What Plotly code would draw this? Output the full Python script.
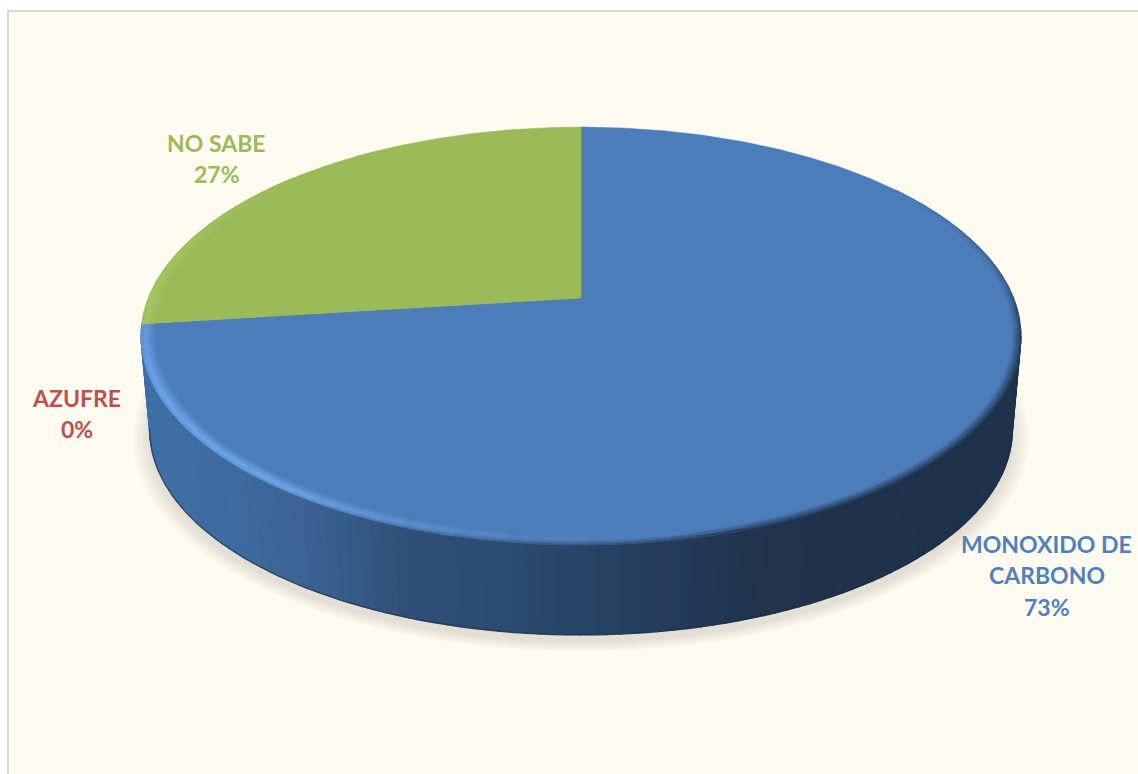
import numpy as np
import plotly.graph_objects as go

# Survey shares
categories = ["MONOXIDO DE CARBONO", "AZUFRE", "NO SABE"]
values = [73, 0, 27]
label_lines = [["MONOXIDO DE", "CARBONO"], ["AZUFRE"], ["NO SABE"]]
label_centers = [(1046.5, 543.5), (76.5, 397.5), (216.5, 142.5)]
slice_colors = ["#4c7dba", "#c0504d", "#9bbb59"]
text_colors = ["#4f81bd", "#c0504d", "#9bbb59"]

W, H = 1138, 774
PANEL = "#fffbf0"
LINE_STEP = 31.7

# Perspective of the disc: p is the foreshortening, A and B the half axes
CX, TOP_Y, BOTTOM_Y = 581.0, 298.0, 393.0
P, A, B = 0.1818, 432.7, 202.0
BOTTOM_SCALE = 0.98


def project(theta_deg, radius=1.0, level="top", grow=0.0, shift=0.0):
    """Map a clockwise angle from twelve o'clock on the disc to the page."""
    t = np.radians(np.asarray(theta_deg, dtype=float))
    u, v = radius * np.sin(t), -radius * np.cos(t)
    w = 1 - P * v
    scale = 1.0 if level == "top" else BOTTOM_SCALE + grow
    yc = TOP_Y if level == "top" else BOTTOM_Y + shift
    return CX + scale * A * u / w, yc + scale * B * v / w


def rgb(hex_color):
    return np.array([int(hex_color[i:i + 2], 16) for i in (1, 3, 5)], dtype=float)


def mix(c1, c2, t):
    c = c1 + (c2 - c1) * float(np.clip(t, 0, 1))
    return "#%02x%02x%02x" % tuple(int(round(x)) for x in c)


fig = go.Figure()


def add_polys(groups):
    for color, (xs, ys) in groups.items():
        fig.add_trace(go.Scatter(
            x=xs, y=ys, mode="lines", fill="toself", fillcolor=color,
            line=dict(color=color, width=0.8), hoverinfo="skip", showlegend=False,
        ))


# Soft ground shadow built from stacked translucent discs
angles = np.linspace(0, 360, 361)
for i in range(14):
    grow = 0.042 - i * 0.003
    sx, sy = project(angles, level="bottom", grow=grow, shift=7)
    fig.add_trace(go.Scatter(
        x=sx, y=sy, mode="lines", fill="toself", fillcolor="rgba(35,35,25,0.0085)",
        line=dict(width=0), hoverinfo="skip", showlegend=False,
    ))

# Cylinder wall, shaded from left to right
wall_x = [141, 250, 320, 400, 500, 580, 660, 740, 820, 1022]
wall_c = ["#3f6fa8", "#3e6a9e", "#3b6090", "#2f5179", "#2b4a70", "#274466", "#243c5b", "#20344f", "#1f324b", "#1f324b"]
wall_rgb = np.array([rgb(c) for c in wall_c])
step = 1.5
groups = {}
for a in np.arange(99.0, 261.0, step):
    seg = np.array([a, a + step + 0.2])
    tx, ty = project(seg)
    bx, by = project(seg, level="bottom")
    mid = (tx.mean() + bx.mean()) / 2
    c = "#%02x%02x%02x" % tuple(int(round(np.interp(mid, wall_x, wall_rgb[:, k]))) for k in range(3))
    g = groups.setdefault(c, ([], []))
    g[0].extend([tx[0], tx[1], bx[1], bx[0], tx[0], None])
    g[1].extend([ty[0], ty[1], by[1], by[0], ty[0], None])
add_polys(groups)

# Darker seam where the wall meets the ground
ea = np.linspace(100, 260, 160)
ex, ey = project(ea, level="bottom")
fig.add_trace(go.Scatter(x=ex, y=ey, mode="lines", line=dict(color="rgba(22,40,64,0.55)", width=1.5),
                         hoverinfo="skip", showlegend=False))

# Top face wedges, clockwise from twelve o'clock
shares = np.array(values, dtype=float) / sum(values)
ends = np.cumsum(shares) * 360
starts = np.concatenate([[0], ends[:-1]])
for name, a0, a1, color in zip(categories, starts, ends, slice_colors):
    n = max(int(a1 - a0) * 2, 2)
    arc = np.linspace(a0, a1, n)
    ax, ay = project(arc)
    # A zero share collapses to a line, so it gets no outline either
    edge = 0.5 if a1 > a0 else 0
    fig.add_trace(go.Scatter(
        x=np.concatenate([[CX], ax, [CX]]), y=np.concatenate([[TOP_Y], ay, [TOP_Y]]),
        mode="lines", fill="toself", fillcolor=color, line=dict(color=color, width=edge),
        name=name, hoverinfo="name", showlegend=False,
    ))

# Bevel around the rim: a highlight at lower left, a dark fade at lower right
h_a = [165, 185, 215, 240, 262, 285, 310]
h_v = [0, 0.25, 1, 0.85, 0.6, 0.4, 0]
d_a = [55, 85, 100, 160, 185, 215, 240]
d_v = [0, 0.5, 1, 1, 0.6, 0.15, 0]
DARK = rgb("#1f324b")
BANDS = 7
BEVEL = 0.032
seg_step = 3.0
groups = {}
for a0, a1, color in zip(starts, ends, slice_colors):
    if a1 - a0 <= 0:
        continue
    base = rgb(color)
    bright = rgb("#74aef4") if color == slice_colors[0] else rgb("#abcd6a")
    n = max(int(round((a1 - a0) / seg_step)), 1)
    edges = np.linspace(a0, a1, n + 1)
    for e0, e1 in zip(edges[:-1], edges[1:]):
        mid = (e0 + e1) / 2
        h = np.interp(mid, h_a, h_v)
        d = np.interp(mid, d_a, d_v)
        if h == 0 and d == 0:
            continue
        for b in range(BANDS):
            t0, t1 = b / BANDS, (b + 1) / BANDS
            tm = (t0 + t1) / 2
            hf = np.interp(tm, [0, 0.3, 1], [0.6, 1, 0])
            df = np.interp(tm, [0, 0.2, 0.6], [1, 0.55, 0])
            c = rgb(mix(base, bright, h * hf))
            c = mix(c, DARK, d * df)
            seg = np.array([e0, e1])
            ox, oy = project(seg, 1 - BEVEL * t0)
            ix, iy = project(seg, 1 - BEVEL * t1)
            g = groups.setdefault(c, ([], []))
            g[0].extend([ox[0], ox[1], ix[1], ix[0], ox[0], None])
            g[1].extend([oy[0], oy[1], iy[1], iy[0], oy[0], None])
add_polys(groups)

# Category name and percentage beside each slice
for lines, (lx, ly), value, color in zip(label_lines, label_centers, values, text_colors):
    pct = f"{round(100 * value / sum(values))}%"
    for k, text in enumerate(lines + [pct]):
        fig.add_annotation(
            x=lx, y=ly + k * LINE_STEP, text=text, showarrow=False,
            xanchor="center", yanchor="middle",
            font=dict(family="Lato", size=23, color=color, weight="bold"),
        )

fig.update_layout(
    width=W, height=H, margin=dict(l=0, r=0, t=0, b=0),
    paper_bgcolor="#ffffff", plot_bgcolor="#ffffff",
    xaxis=dict(range=[0, W], visible=False, fixedrange=True),
    yaxis=dict(range=[H, 0], visible=False, fixedrange=True),
    shapes=[dict(type="rect", xref="x", yref="y", x0=8, y0=11, x1=W + 20, y1=H + 20,
                 fillcolor=PANEL, line=dict(color="#d9d9d9", width=2), layer="below")],
)

fig.write_html("out.html", config=dict(displayModeBar=False))
